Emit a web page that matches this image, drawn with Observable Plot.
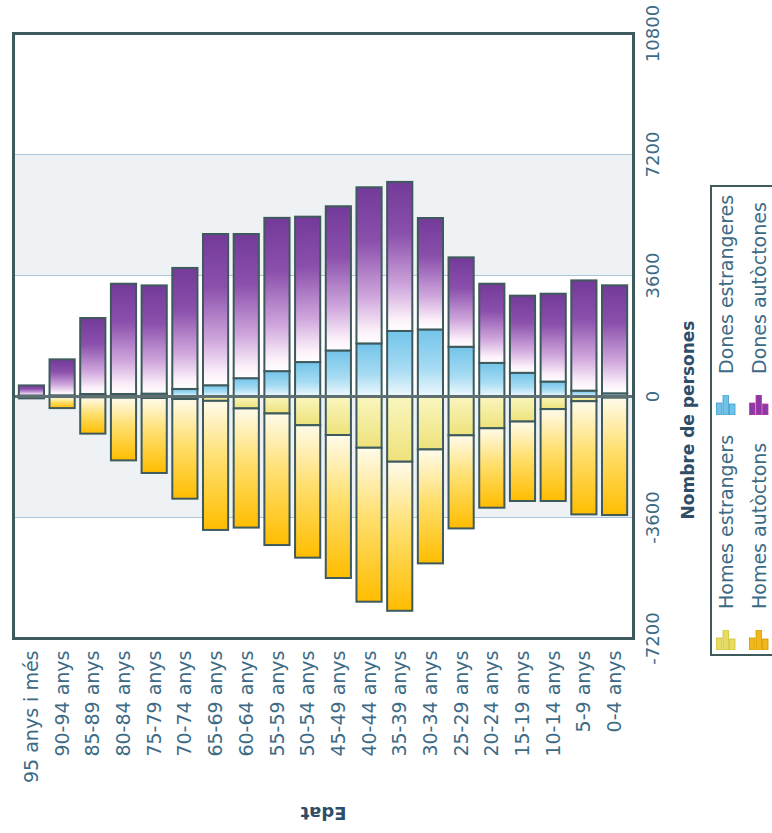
<!DOCTYPE html>
<html>
<head>
<meta charset="utf-8">
<script src="https://cdn.jsdelivr.net/npm/d3@7"></script>
<script src="https://cdn.jsdelivr.net/npm/@observablehq/plot@0.6"></script>
<style>
html,body{margin:0;padding:0;background:#fff;overflow:hidden;width:772px;height:833px;}
#wrap{position:relative;width:772px;height:833px;overflow:hidden;font-family:"DejaVu Sans",Verdana,sans-serif;}
#chart{position:absolute;left:0;top:0;}
#legend{position:absolute;left:710px;top:185px;width:92px;height:471px;border:2px solid #3e5a5c;box-sizing:border-box;background:#fff;}
#legend .inner{position:absolute;left:0;top:0;width:467px;height:88px;transform-origin:0 0;transform:translate(0,467px) rotate(-90deg);}
.item{position:absolute;display:flex;align-items:center;font-size:19px;line-height:24px;color:#3d6b86;white-space:nowrap;}
.item svg{transform:rotate(90deg);margin-right:21px;flex:none;}
.r1{top:2px}.r2{top:35px}.c1{left:4px}.c2{left:239px}
</style>
</head>
<body>
<svg width="0" height="0" style="position:absolute">
  <defs>
    <linearGradient id="gPurple" x1="0" y1="0" x2="0" y2="1">
      <stop offset="0" stop-color="#743a99"/>
      <stop offset="0.35" stop-color="#8b50ac"/>
      <stop offset="0.7" stop-color="#cfa6dc"/>
      <stop offset="0.92" stop-color="#fcf0fa"/>
      <stop offset="1" stop-color="#ffffff"/>
    </linearGradient>
    <linearGradient id="gBlue" x1="0" y1="0" x2="0" y2="1">
      <stop offset="0" stop-color="#72c4ea"/>
      <stop offset="0.6" stop-color="#a8dcf3"/>
      <stop offset="1" stop-color="#eef8fd"/>
    </linearGradient>
    <linearGradient id="gGold" x1="0" y1="0" x2="0" y2="1">
      <stop offset="0" stop-color="#fffbea"/>
      <stop offset="0.45" stop-color="#ffdf6e"/>
      <stop offset="1" stop-color="#ffbd00"/>
    </linearGradient>
    <linearGradient id="gYellow" x1="0" y1="0" x2="0" y2="1">
      <stop offset="0" stop-color="#faf6c0"/>
      <stop offset="1" stop-color="#eee27a"/>
    </linearGradient>
  </defs>
</svg>
<div id="wrap">
  <div id="chart"></div>
  <div id="legend"><div class="inner" id="legendInner"></div></div>
</div>
<script>
// ---- data ----
const ages = ["95 anys i més","90-94 anys","85-89 anys","80-84 anys","75-79 anys","70-74 anys",
  "65-69 anys","60-64 anys","55-59 anys","50-54 anys","45-49 anys","40-44 anys","35-39 anys",
  "30-34 anys","25-29 anys","20-24 anys","15-19 anys","10-14 anys","5-9 anys","0-4 anys"];
const donesEstrangeres = [15,20,60,60,70,210,320,530,740,1010,1355,1565,1935,1980,1465,985,690,430,160,80];
const donesAutoctones  = [300,1070,2260,3280,3220,3600,4500,4290,4560,4325,4290,4645,4435,3316,2660,2355,2295,2613,3280,3213];
const homesEstrangers  = [0,30,40,50,60,90,145,370,520,870,1160,1540,1955,1590,1170,960,760,390,155,50];
const homesAutoctons   = [70,330,1080,1865,2230,2965,3840,3545,3915,3940,4255,4580,4435,3390,2770,2363,2364,2734,3367,3492];
const series = ["Dones estrangeres","Dones autòctones","Homes estrangers","Homes autòctons"];
const seriesFills = ["url(#gBlue)","url(#gPurple)","url(#gYellow)","url(#gGold)"];
const valueTicks = [-7200,-3600,0,3600,7200,10800];
const shadedBands = [[-3600,0],[3600,7200]];
const gridLines = [-3600,3600,7200];
const xTitle = "Edat";
const yTitle = "Nombre de persones";

const rows = [];
ages.forEach((a,i)=>{
  rows.push({age:a, serie:series[0], v: donesEstrangeres[i]});
  rows.push({age:a, serie:series[1], v: donesAutoctones[i]});
  rows.push({age:a, serie:series[2], v: -homesEstrangers[i]});
  rows.push({age:a, serie:series[3], v: -homesAutoctons[i]});
});

const dark = "#3e5a5c";
const labelColor = "#3d6b86";

const chart = Plot.plot({
  width: 772,
  height: 833,
  marginLeft: 13,
  marginRight: 139,
  marginTop: 33,
  marginBottom: 195,
  style: {fontFamily: "'DejaVu Sans', Verdana, sans-serif", background: "transparent"},
  x: {type: "band", domain: ages, paddingInner: 0.18, paddingOuter: 0.19, round: false, axis: null},
  y: {domain: [-7200, 10800], axis: null},
  color: {type: "ordinal", domain: series, range: seriesFills},
  marks: [
    Plot.rect(shadedBands, {y1: d => d[0], y2: d => d[1], fill: "#eff2f4"}),
    Plot.ruleY(gridLines, {stroke: "#a9c7d8", strokeWidth: 1}),
    Plot.barY(rows, {x: "age", y: "v", z: "serie", fill: "serie", stroke: dark, strokeWidth: 2}),
    Plot.ruleY([0], {stroke: "#5d6f71", strokeWidth: 3}),
    Plot.frame({stroke: dark, strokeWidth: 3}),
    Plot.text(valueTicks, {y: d => d, text: d => String(d), frameAnchor: "right", dx: 20,
      rotate: -90, textAnchor: "middle", lineAnchor: "middle", fontSize: 18, fill: labelColor}),
    Plot.text(ages, {x: d => d, text: d => d, frameAnchor: "bottom", dy: 12,
      rotate: -90, textAnchor: "end", lineAnchor: "middle", fontSize: 19, fill: labelColor}),
    Plot.text([yTitle], {text: d => d, frameAnchor: "right", dx: 55, dy: 84, rotate: -90,
      textAnchor: "middle", lineAnchor: "middle", fontWeight: "bold", fontSize: 17, fill: "#2f4d66"}),
    Plot.text([xTitle], {text: d => d, frameAnchor: "bottom", dy: 174, rotate: 180,
      textAnchor: "middle", lineAnchor: "middle", fontWeight: "bold", fontSize: 18, fill: "#2f4d66"})
  ]
});
document.getElementById("chart").appendChild(chart);

// ---- legend ----
const legendItems = [
  {label: "Homes estrangers", color: "#e6dd60", edge: "#cfc43a", cls: "r1 c1"},
  {label: "Dones estrangeres", color: "#6fc2e8", edge: "#3c9ccc", cls: "r1 c2"},
  {label: "Homes autòctons", color: "#f0b81a", edge: "#d49a00", cls: "r2 c1"},
  {label: "Dones autòctones", color: "#8a3aa8", edge: "#c23aa0", cls: "r2 c2"}
];
const iconHeights = [12, 20, 11];
const inner = d3.select("#legendInner");
legendItems.forEach(it => {
  const div = inner.append("div").attr("class", "item " + it.cls);
  const svg = div.append("svg").attr("width", 20).attr("height", 20);
  iconHeights.forEach((h, j) => {
    svg.append("rect").attr("x", 0.5 + j * 6.5).attr("y", 20 - h).attr("width", 5.5).attr("height", h)
      .attr("fill", it.color).attr("stroke", it.edge).attr("stroke-width", 0.8);
  });
  div.append("span").text(it.label);
});
</script>
</body>
</html>
